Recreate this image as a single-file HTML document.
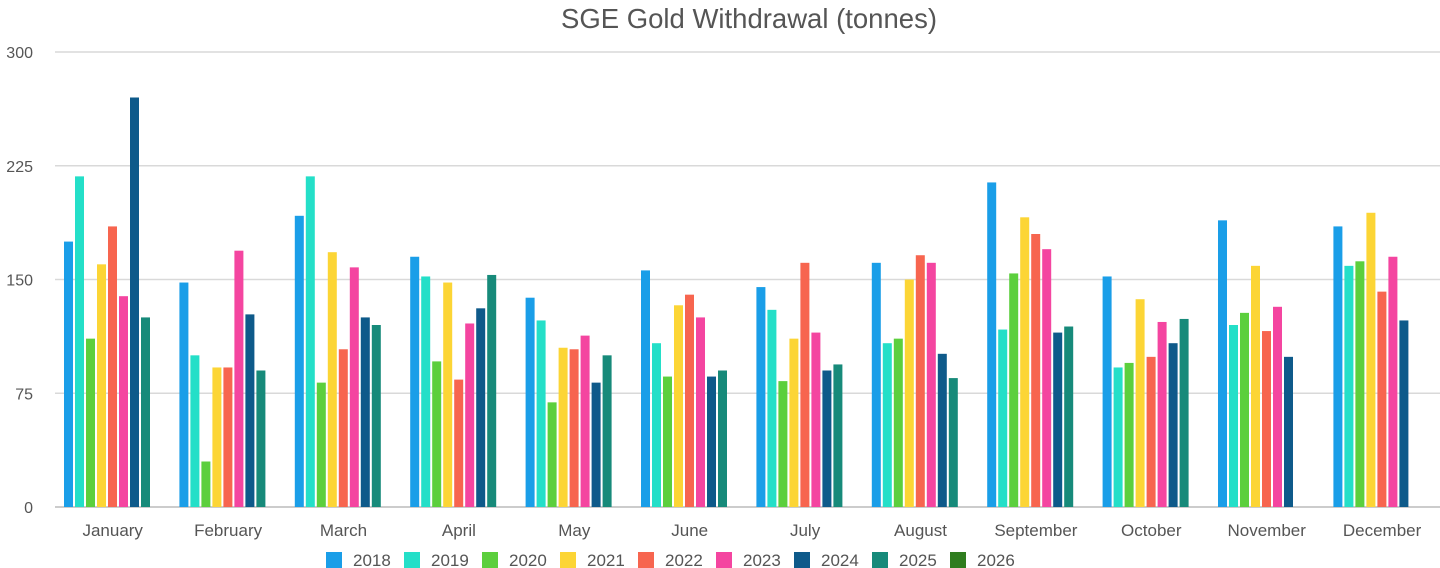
<!DOCTYPE html>
<html><head><meta charset="utf-8"><style>
html,body{margin:0;padding:0;background:#fff;width:1440px;height:568px;overflow:hidden;font-family:"Liberation Sans",sans-serif;}
</style></head><body>
<svg id="chart" width="1440" height="568" xmlns="http://www.w3.org/2000/svg">
<text x="749" y="28" text-anchor="middle" font-size="27.5" fill="#555">SGE Gold Withdrawal (tonnes)</text>
<g id="grid"></g><g id="bars"></g><g id="xlabels"></g><g id="legend"></g>
</svg>
<script>
const months=["January","February","March","April","May","June","July","August","September","October","November","December"];
const years=["2018","2019","2020","2021","2022","2023","2024","2025","2026"];
const colors=["#1a9ee8","#24dfc8","#5ccf3d","#fcd535","#f7654f","#f445a0","#0e5a8a","#178a7a","#2f7d1f"];
const yTicks=[0,75,150,225,300];
const s2018=[175,148,192,165,138,156,145,161,214,152,189,185];
const s2019=[218,100,218,152,123,108,130,108,117,92,120,159];
const s2020=[111,30,82,96,69,86,83,111,154,95,128,162];
const s2021=[160,92,168,148,105,133,111,150,191,137,159,194];
const s2022=[185,92,104,84,104,140,161,166,180,99,116,142];
const s2023=[139,169,158,121,113,125,115,161,170,122,132,165];
const s2024=[270,127,125,131,82,86,90,101,115,108,99,123];
const s2025=[125,90,120,153,100,90,94,85,119,124,null,null];
const s2026=[null,null,null,null,null,null,null,null,null,null,null,null];
const series=[s2018,s2019,s2020,s2021,s2022,s2023,s2024,s2025,s2026];
const NS="http://www.w3.org/2000/svg";
const x0=54,gw=115.4,y0=507,yTop=52,ymax=300;
const y=v=>y0-(v/ymax)*(y0-yTop);
function mk(t,a,p){const e=document.createElementNS(NS,t);for(const k in a)e.setAttribute(k,a[k]);p.appendChild(e);return e;}
const grid=document.getElementById('grid');
yTicks.forEach(t=>{
 const l=mk('line',{x1:55,x2:1440,y1:y(t),y2:y(t),stroke:t===0?'#bbb':'#d9d9d9','stroke-width':1.5},grid);
 
 
 const tx=mk('text',{x:33,y:y(t)+6,'text-anchor':'end','font-size':16,fill:'#555'},grid);
 tx.textContent=t;
 
 
});
const bars=document.getElementById('bars');
months.forEach((m,i)=>{
 series.forEach((s,j)=>{
  const v=s[i]; if(v==null)return;
  const r=mk('rect',{x:x0+i*gw+10+j*11,y:y(v),width:9,height:y0-y(v),fill:colors[j]},bars);
  
  
 });
 const t=mk('text',{x:x0+i*gw+gw/2+1,y:536,'text-anchor':'middle','font-size':17,fill:'#555'},document.getElementById('xlabels'));
 t.textContent=m;
 
 
});
const lg=document.getElementById('legend');
years.forEach((yr,j)=>{
 const g=mk('g',{},lg);
 
 
 mk('rect',{x:326+j*78,y:552,width:16,height:16,fill:colors[j]},g);
 const t=mk('text',{x:353+j*78,y:566,'font-size':17,fill:'#555'},g);
 t.textContent=yr;
});
</script>
</body></html>
